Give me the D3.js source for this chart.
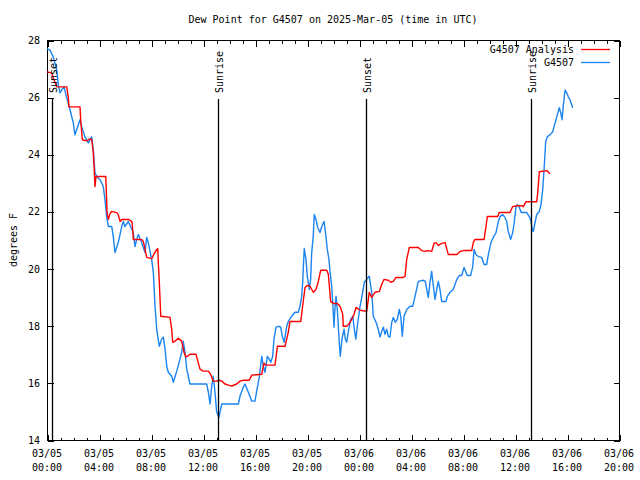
<!DOCTYPE html>
<html>
<head>
<meta charset="utf-8">
<script src="https://cdn.jsdelivr.net/npm/d3@7"></script>
<style>
  html, body { margin: 0; padding: 0; background: #fff; }
  svg text { font-family: "DejaVu Sans Mono", monospace; font-size: 10px; fill: #000; }
</style>
</head>
<body>
<svg id="chart" width="640" height="480"></svg>
<script>
// ---- data (hours since 03/05 00:00 UTC, dew point in °F) ----
const title = "Dew Point for G4507 on 2025-Mar-05 (time in UTC)";
const yLabel = "degrees F";
const seriesNames = ["G4507 Analysis", "G4507"];

const xTickDates = ["03/05","03/05","03/05","03/05","03/05","03/05","03/06","03/06","03/06","03/06","03/06","03/06"];
const xTickTimes = ["00:00","04:00","08:00","12:00","16:00","20:00","00:00","04:00","08:00","12:00","16:00","20:00"];
const yTicks = [14, 16, 18, 20, 22, 24, 26, 28];

const eventNames = ["Sunset", "Sunrise", "Sunset", "Sunrise"];
const eventHours = [0.41, 13.18, 24.54, 37.25];

const analysisHours = [0,0.36,0.48,0.75,1.52,1.64,1.69,2.54,2.59,2.72,3.05,3.31,3.44,3.56,3.62,3.69,3.77,4.52,4.58,4.62,4.72,4.85,4.98,5.36,5.48,5.62,5.75,6.25,6.52,6.56,6.64,7.28,7.41,7.54,7.67,8.05,8.18,8.44,8.52,8.56,8.64,8.75,9.46,9.59,9.67,9.85,10.1,10.36,10.54,10.69,11.0,11.46,11.56,11.77,12.02,12.41,12.59,12.79,13.05,13.25,13.44,13.69,13.95,14.21,14.59,14.85,15.1,15.56,15.75,16.52,16.69,16.85,17.54,17.72,18.31,18.56,18.69,19.52,19.72,19.85,20.02,20.23,20.48,20.69,20.87,21.05,21.52,21.64,21.72,21.82,22.02,22.33,22.54,22.75,22.79,23.05,23.25,23.44,23.62,23.77,24.08,24.59,24.72,24.79,24.98,25.23,25.56,25.75,25.92,26.25,26.44,26.64,26.85,27.41,27.54,27.67,27.87,28.56,28.82,29.08,29.28,29.59,29.77,29.92,30.1,30.36,30.62,30.87,31.52,31.77,32.08,32.67,32.79,32.92,33.62,33.77,33.87,34.67,34.79,35.62,35.82,36.13,36.52,36.64,36.85,37.67,37.75,37.87,38.44,38.69];
const analysisValues = [26.88,26.85,26.67,26.36,26.36,25.98,25.66,25.66,25.21,24.51,24.47,24.54,24.51,24.06,23.57,22.87,23.22,23.22,22.48,21.96,21.72,21.93,22.0,21.96,21.89,21.65,21.72,21.72,21.65,21.54,21.02,21.02,20.95,20.67,20.39,20.35,20.46,20.67,20.70,20.21,19.52,18.33,18.29,17.88,17.42,17.46,17.56,17.46,17.07,16.90,17.0,17.0,16.83,16.48,16.41,16.41,16.30,16.06,16.06,16.09,16.06,15.96,15.92,15.89,15.96,16.06,16.09,16.09,16.27,16.30,16.69,16.62,16.62,17.28,17.28,17.77,18.15,18.15,18.89,19.34,19.41,19.38,19.17,19.27,19.55,19.94,19.94,19.80,19.38,18.85,18.78,18.78,18.68,18.40,17.98,17.98,18.08,18.22,18.40,18.64,18.54,18.50,18.92,19.17,18.99,19.17,19.20,19.45,19.62,19.59,19.52,19.55,19.69,19.69,19.73,20.32,20.74,20.74,20.63,20.60,20.63,20.60,20.88,20.91,20.81,20.88,20.91,20.49,20.49,20.60,20.63,20.63,20.91,21.02,21.02,21.47,21.82,21.82,21.96,21.96,22.17,22.20,22.20,22.17,22.34,22.34,22.66,23.39,23.43,23.32];

const obsHours = [0,0.23,0.48,0.75,0.87,1.0,1.13,1.31,1.46,1.77,2.02,2.15,2.28,2.54,2.67,2.92,3.18,3.31,3.44,3.56,3.69,3.82,4.08,4.33,4.46,4.59,4.72,4.98,5.10,5.23,5.48,5.75,5.87,6.0,6.25,6.64,6.77,6.90,7.02,7.28,7.54,7.67,7.79,8.05,8.18,8.31,8.44,8.64,8.82,8.95,9.08,9.21,9.33,9.59,9.72,9.98,10.23,10.36,10.48,10.62,10.75,11.0,12.28,12.41,12.54,12.67,12.79,12.92,13.05,13.23,13.44,14.72,14.85,15.10,15.23,15.48,15.75,16.0,16.13,16.33,16.52,16.64,16.77,16.95,17.10,17.21,17.36,17.46,17.62,17.79,17.98,18.10,18.25,18.44,18.56,18.82,19.08,19.33,19.46,19.59,19.67,19.72,19.79,19.92,20.02,20.10,20.18,20.28,20.36,20.48,20.56,20.69,20.82,21.0,21.13,21.31,21.46,21.56,21.69,21.77,21.90,21.98,22.08,22.13,22.23,22.33,22.41,22.48,22.56,22.69,22.85,22.95,23.05,23.21,23.36,23.52,23.62,23.75,23.87,24.08,24.23,24.41,24.59,24.79,24.98,25.10,25.31,25.48,25.62,25.75,25.87,26.0,26.13,26.25,26.38,26.52,26.64,26.79,26.95,27.10,27.21,27.33,27.46,27.67,27.92,28.13,28.31,28.56,28.95,29.10,29.21,29.33,29.46,29.59,29.72,29.85,29.98,30.10,30.23,30.36,30.69,30.79,31.0,31.25,31.52,31.72,31.9,32.08,32.23,32.33,32.59,32.75,32.85,33.0,33.18,33.44,33.62,33.82,33.95,34.15,34.33,34.54,34.72,34.85,35.05,35.23,35.36,35.48,35.67,35.82,35.92,36.08,36.18,36.33,36.48,36.9,37.1,37.23,37.33,37.41,37.54,37.67,37.87,38.0,38.13,38.25,38.36,38.48,38.69,38.9,39.0,39.15,39.25,39.41,39.52,39.62,39.72,39.85,39.98,40.1,40.23,40.44];
const obsValues = [27.69,27.65,27.41,26.95,26.43,26.15,26.25,26.36,26.08,25.56,25.10,24.68,24.86,25.21,24.96,24.61,24.40,24.51,24.61,24.16,23.36,23.22,23.11,22.87,22.41,21.82,21.47,21.47,21.12,20.56,20.91,21.47,21.65,21.47,21.65,21.26,20.77,21.02,21.19,20.91,20.56,21.09,20.91,20.32,19.87,18.68,17.88,17.28,17.53,17.60,17.18,16.58,16.37,16.23,16.02,16.41,16.83,17.07,17.46,17.07,16.48,15.96,15.96,15.68,15.26,15.89,16.23,15.68,14.98,14.80,15.26,15.26,15.54,15.85,15.96,15.68,15.36,15.36,15.71,16.20,16.93,16.58,16.37,16.93,16.83,16.72,16.93,17.53,17.95,17.98,17.95,17.63,17.42,17.98,18.15,18.33,18.47,18.47,18.68,19.03,19.52,20.07,20.70,20.32,19.73,19.52,19.27,19.62,20.56,21.12,21.89,21.72,21.44,21.26,21.47,21.65,21.12,20.67,20.32,19.90,19.38,18.82,17.95,18.47,19.03,18.57,17.98,17.42,16.93,17.53,17.88,17.53,17.42,17.88,18.22,18.33,17.95,17.53,17.98,18.68,19.03,19.52,19.62,19.73,19.17,18.33,18.12,17.88,17.60,17.81,17.95,17.70,17.88,17.63,17.60,18.12,18.29,18.12,18.22,18.57,18.33,17.63,18.33,18.57,18.68,18.68,19.03,19.55,19.59,19.55,19.27,18.99,19.52,19.90,19.38,18.92,19.27,19.55,19.27,18.85,18.85,19.03,19.17,19.27,19.62,19.76,19.76,20.04,19.87,19.76,19.76,20.07,20.67,20.49,20.42,20.39,20.14,20.14,20.49,20.91,21.09,21.26,21.65,21.82,21.89,21.79,21.65,21.30,21.02,21.26,21.54,22.17,22.24,22.14,21.96,21.96,21.82,21.65,21.37,21.30,21.61,21.89,22.0,22.24,22.76,23.57,24.44,24.61,24.68,24.79,24.96,25.21,25.38,25.63,25.45,25.21,25.73,26.25,26.15,26.01,25.91,25.63];

const seriesColors = ["#ff0000", "#1a84f0"];

// ---- layout ----
const plotLeft = 47, plotRight = 619, plotTop = 40, plotBottom = 440;
const svg = d3.select("#chart");
const x = d3.scaleLinear().domain([0, 44]).range([plotLeft, plotRight]);
const y = d3.scaleLinear().domain([14, 28]).range([plotBottom, plotTop]);

// title
svg.append("text").attr("x", (plotLeft + plotRight) / 2).attr("y", 23)
  .attr("text-anchor", "middle").text(title);

// y label
svg.append("text").attr("transform", `translate(14,${(plotTop + plotBottom) / 2}) rotate(-90)`)
  .attr("text-anchor", "middle").attr("dominant-baseline", "middle").text(yLabel);

// axes (ticks inward, mirrored)
const majorX = d3.range(0, 45, 4), minorX = d3.range(0, 45, 1).filter(h => h % 4 !== 0);
function styleAxis(g) {
  g.select(".domain").remove();
  g.selectAll(".tick line").attr("stroke", "#000").attr("shape-rendering", "crispEdges");
  g.selectAll(".tick text").remove();
}
svg.append("g").attr("transform", `translate(0.5,${plotBottom + 0.5})`)
  .call(d3.axisBottom(x).tickValues(majorX).tickSizeInner(-6).tickSizeOuter(0)).call(styleAxis);
svg.append("g").attr("transform", `translate(0.5,${plotBottom + 0.5})`)
  .call(d3.axisBottom(x).tickValues(minorX).tickSizeInner(-3).tickSizeOuter(0)).call(styleAxis);
svg.append("g").attr("transform", `translate(0.5,${plotTop + 0.5})`)
  .call(d3.axisTop(x).tickValues(majorX).tickSizeInner(-6).tickSizeOuter(0)).call(styleAxis);
svg.append("g").attr("transform", `translate(0.5,${plotTop + 0.5})`)
  .call(d3.axisTop(x).tickValues(minorX).tickSizeInner(-3).tickSizeOuter(0)).call(styleAxis);
svg.append("g").attr("transform", `translate(${plotLeft + 0.5},0.5)`)
  .call(d3.axisLeft(y).tickValues(yTicks).tickSizeInner(-6).tickSizeOuter(0)).call(styleAxis);
svg.append("g").attr("transform", `translate(${plotRight + 0.5},0.5)`)
  .call(d3.axisRight(y).tickValues(yTicks).tickSizeInner(-6).tickSizeOuter(0)).call(styleAxis);

// tick labels
majorX.forEach((h, i) => {
  const t = svg.append("text").attr("x", x(h)).attr("text-anchor", "middle");
  t.append("tspan").attr("x", x(h)).attr("y", 457).text(xTickDates[i]);
  t.append("tspan").attr("x", x(h)).attr("y", 471).text(xTickTimes[i]);
});
yTicks.forEach(v => {
  svg.append("text").attr("x", 40).attr("y", y(v) + 4).attr("text-anchor", "end").text(v);
});

// frame
svg.append("rect").attr("x", plotLeft + 0.5).attr("y", plotTop + 0.5)
  .attr("width", plotRight - plotLeft).attr("height", plotBottom - plotTop)
  .attr("fill", "none").attr("stroke", "#000").attr("shape-rendering", "crispEdges");

// series
const line = d3.line().x(d => x(d[0])).y(d => y(d[1]));
const obs = obsHours.map((h, i) => [h, obsValues[i]]);
const ana = analysisHours.map((h, i) => [h, analysisValues[i]]);
svg.append("path").datum(obs).attr("d", line).attr("fill", "none")
  .attr("stroke", seriesColors[1]).attr("stroke-width", 1.4).attr("stroke-linejoin", "round");
svg.append("path").datum(ana).attr("d", line).attr("fill", "none")
  .attr("stroke", seriesColors[0]).attr("stroke-width", 1.4).attr("stroke-linejoin", "round");

// sunrise / sunset markers
eventHours.forEach((h, i) => {
  const xx = Math.round(x(h)) + 0.5;
  svg.append("line").attr("x1", xx).attr("x2", xx).attr("y1", 99).attr("y2", plotBottom)
    .attr("stroke", "#000").attr("stroke-width", 1.3);
  svg.append("text").attr("transform", `translate(${xx + 0.5},93) rotate(-90)`)
    .attr("text-anchor", "start").attr("dominant-baseline", "central").text(eventNames[i]);
});

// legend
const legY = [49, 62];
seriesNames.forEach((n, i) => {
  svg.append("text").attr("x", 574).attr("y", legY[i] + 4).attr("text-anchor", "end").text(n);
  svg.append("line").attr("x1", 581).attr("x2", 610).attr("y1", legY[i] + 0.5).attr("y2", legY[i] + 0.5)
    .attr("stroke", seriesColors[i]).attr("stroke-width", 1.3);
});
</script>
</body>
</html>
